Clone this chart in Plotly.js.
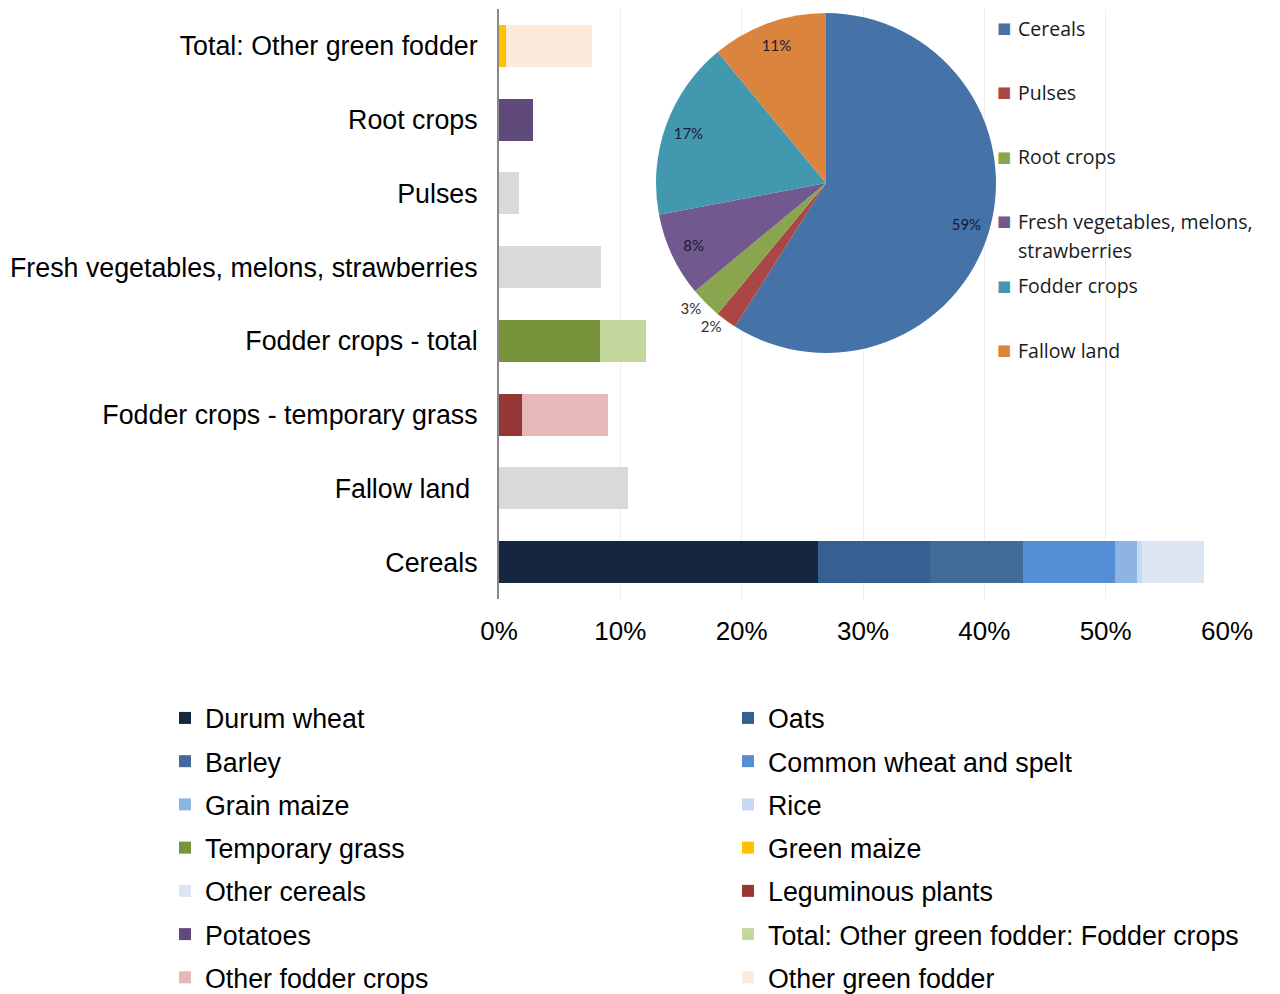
<!DOCTYPE html>
<html>
<head>
<meta charset="utf-8">
<script src="https://cdn.plot.ly/plotly-3.0.1.min.js"></script>
<style>html,body{margin:0;padding:0;background:#fff;}#chart{width:1280px;height:994px;}</style>
</head>
<body>
<div id="chart"></div>
<script>
// ---- Data ----
const categories = ['Cereals', 'Fallow land\u00a0', 'Fodder crops - temporary grass', 'Fodder crops - total',
  'Fresh vegetables, melons, strawberries', 'Pulses', 'Root crops', 'Total: Other green fodder'];

const durumWheat        = [0.263, null, null, null, null, null, null, null];
const oats              = [0.092, null, null, null, null, null, null, null];
const barley            = [0.077, null, null, null, null, null, null, null];
const commonWheat       = [0.076, null, null, null, null, null, null, null];
const grainMaize        = [0.018, null, null, null, null, null, null, null];
const rice              = [0.004, null, null, null, null, null, null, null];
const temporaryGrass    = [null, null, null, 0.083, null, null, null, null];
const greenMaize        = [null, null, null, null, null, null, null, 0.006];
const otherCereals      = [0.051, null, null, null, null, null, null, null];
const leguminousPlants  = [null, null, 0.019, null, null, null, null, null];
const potatoes          = [null, null, null, null, null, null, 0.028, null];
const otherGreenFodderFodderCrops = [null, null, null, 0.038, null, null, null, null];
const otherFodderCrops  = [null, null, 0.071, null, null, null, null, null];
const otherGreenFodder  = [null, null, null, null, null, null, null, 0.071];
const totalOnly         = [null, 0.106, null, null, 0.084, 0.0165, null, null];

const seriesNames = ['Durum wheat', 'Oats', 'Barley', 'Common wheat and spelt', 'Grain maize', 'Rice',
  'Temporary grass', 'Green maize', 'Other cereals', 'Leguminous plants', 'Potatoes',
  'Total: Other green fodder: Fodder crops', 'Other fodder crops', 'Other green fodder'];
const seriesValues = [durumWheat, oats, barley, commonWheat, grainMaize, rice, temporaryGrass, greenMaize,
  otherCereals, leguminousPlants, potatoes, otherGreenFodderFodderCrops, otherFodderCrops, otherGreenFodder];
const seriesColors = ['#14273F', '#376092', '#41699A', '#558ED5', '#8EB4E3', '#C6D9F1', '#77933C', '#FFC000',
  '#DCE6F2', '#953735', '#604A7B', '#C3D69B', '#E6B9B8', '#FDEADA'];

const pieLabels = ['Cereals', 'Pulses', 'Root crops', 'Fresh vegetables, melons,\nstrawberries', 'Fodder crops', 'Fallow land'];
const pieValues = [59, 2, 3, 8, 17, 11];
const pieColors = ['#4572A7', '#AA4643', '#89A54E', '#71588F', '#4198AF', '#DB843D'];

// ---- Layout geometry ----
const W = 1280, H = 994;
const M = {l: 499, r: 53, t: 9, b: 395, autoexpand: false};
const PW = W - M.l - M.r, PH = H - M.t - M.b;
const px2x = p => (p - M.l) / PW;
const py2y = p => (H - M.b - p) / PH;

const font = 'Liberation Sans, Arial, sans-serif';

const traces = [];
seriesNames.forEach((name, i) => {
  traces.push({
    type: 'bar', orientation: 'h', name: name,
    y: categories, x: seriesValues[i],
    marker: {color: seriesColors[i]},
    width: 0.57,
    legend: (i % 2 === 0) ? 'legend' : 'legend2',
    legendgroup: 'g' + i,
    hoverinfo: 'x+name'
  });
});
traces.push({
  type: 'bar', orientation: 'h', name: 'Total',
  y: categories, x: totalOnly, marker: {color: '#D9D9D9'}, width: 0.57, showlegend: false
});

const pieDomain = {x: [px2x(656), px2x(996)], y: [py2y(353), py2y(13)]};
const pieNames = pieLabels.map(l => l.replace('\n', ' '));
// the pie itself
traces.push({
  type: 'pie', labels: pieNames, values: pieValues,
  marker: {colors: pieColors, line: {width: 0}},
  sort: false, direction: 'clockwise', rotation: 0,
  domain: pieDomain, textinfo: 'none', showlegend: false, hoverinfo: 'label+percent'
});
// transparent ring carrying the percentage labels near the outer edge
traces.push({
  type: 'pie', labels: pieNames, values: pieValues, hole: 0.72,
  marker: {colors: pieValues.map(() => 'rgba(0,0,0,0)'), line: {width: 0}},
  sort: false, direction: 'clockwise', rotation: 0,
  domain: pieDomain,
  texttemplate: '%{percent:.0%}',
  textposition: ['inside', 'outside', 'outside', 'inside', 'inside', 'inside'],
  insidetextorientation: 'horizontal',
  textfont: {family: 'Lato, sans-serif', size: 15, color: '#1a1a33'},
  outsidetextfont: {family: 'Lato, sans-serif', size: 15, color: '#333'},
  showlegend: false, hoverinfo: 'skip'
});

// Pie legend as annotations
const annotations = [];
const pieLegendRows = pieLabels.map(l => l.split('\n'));
const rowTop = 28, rowStep = 64.4, lineStep = 29;
pieLegendRows.forEach((lines, i) => {
  const py = rowTop + i * rowStep;
  annotations.push({
    xref: 'paper', yref: 'paper', x: px2x(1004), y: py2y(py), xanchor: 'center', yanchor: 'middle',
    text: '■', showarrow: false, font: {size: 15, color: pieColors[i], family: 'DejaVu Sans'}
  });
  lines.forEach((ln, j) => {
    annotations.push({
      xref: 'paper', yref: 'paper', x: px2x(1016), y: py2y(py + j * lineStep), xanchor: 'left', yanchor: 'middle',
      text: ln, showarrow: false, font: {size: 19.5, color: '#1a1a1a', family: 'Open Sans, sans-serif'}
    });
  });
});

const legendCommon = {
  orientation: 'v', yanchor: 'top', xanchor: 'left',
  font: {family: font, size: 26.8, color: '#000'},
  tracegroupgap: 5.4, bgcolor: 'rgba(0,0,0,0)', itemclick: false
};

const layout = {
  width: W, height: H,
  margin: M,
  paper_bgcolor: '#fff', plot_bgcolor: '#fff',
  barmode: 'stack',
  showlegend: true,
  font: {family: font, size: 26, color: '#000'},
  xaxis: {
    range: [0, 0.6], dtick: 0.1, tickformat: '.0%',
    showgrid: true, gridcolor: '#EDEDED', gridwidth: 1,
    zeroline: false, showline: false, ticks: '',
    ticklabelstandoff: 14,
    tickfont: {family: font, size: 26, color: '#000'},
    fixedrange: true
  },
  yaxis: {
    type: 'category', categoryorder: 'array', categoryarray: categories,
    range: [-0.5, 7.5],
    showline: true, linecolor: '#888', linewidth: 2,
    showgrid: false, zeroline: false, ticks: '',
    ticklabelstandoff: 14,
    tickfont: {family: font, size: 26.8, color: '#000'},
    fixedrange: true
  },
  legend: Object.assign({}, legendCommon, {x: px2x(165), y: py2y(694)}),
  legend2: Object.assign({}, legendCommon, {x: px2x(728), y: py2y(694)}),
  annotations: annotations
};

Plotly.newPlot('chart', traces, layout, {displayModeBar: false, staticPlot: true});
</script>
</body>
</html>
